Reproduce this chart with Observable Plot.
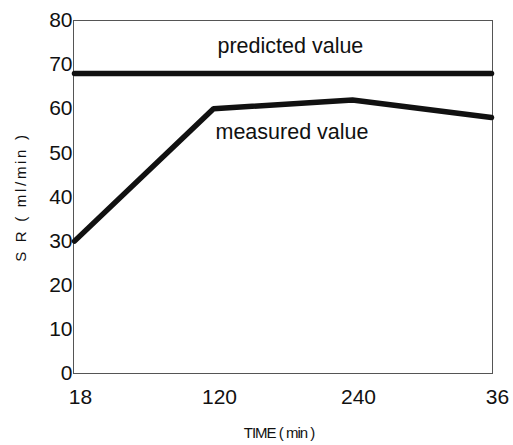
<!DOCTYPE html>
<html>
<head>
<meta charset="utf-8">
<script src="https://cdn.jsdelivr.net/npm/d3@7"></script>
<script src="https://cdn.jsdelivr.net/npm/@observablehq/plot@0.6"></script>
<style>
  html, body { margin: 0; padding: 0; background: #fff; }
  #chart svg { font-family: "Liberation Sans", Arial, Helvetica, sans-serif; }
</style>
</head>
<body>
<div id="chart"></div>
<script>
const timeLabels = ["18", "120", "240", "36"];
const predicted = [68, 68, 68, 68];
const measured = [30, 60, 62, 58];
const yTicks = [0, 10, 20, 30, 40, 50, 60, 70, 80];

const predData = timeLabels.map((t, i) => ({t, v: predicted[i]}));
const measData = timeLabels.map((t, i) => ({t, v: measured[i]}));

const plot = Plot.plot({
  width: 513,
  height: 445,
  marginLeft: 73,
  marginRight: 21,
  marginTop: 20,
  marginBottom: 72,
  x: {type: "point", domain: timeLabels, padding: 0},
  y: {domain: [0, 80]},
  marks: [
    Plot.frame({stroke: "#555", strokeWidth: 1}),
    Plot.axisY({ticks: yTicks, tickSize: 0, tickPadding: 1, fontSize: 21, label: null, fill: "#111"}),
    Plot.axisX({tickSize: 0, tickPadding: 16, dx: 6, fontSize: 21, label: null, fill: "#111"}),
    Plot.line(predData, {x: "t", y: "v", stroke: "#111", strokeWidth: 5.5}),
    Plot.line(measData, {x: "t", y: "v", stroke: "#111", strokeWidth: 5.5, strokeLinejoin: "miter"}),
    Plot.text(["predicted value"], {x: () => "120", y: () => 74.3, text: d => d, textAnchor: "start", dx: 4, fontSize: 21.5, fill: "#111"}),
    Plot.text(["measured value"], {x: () => "120", y: () => 54.6, text: d => d, textAnchor: "start", dx: 2, fontSize: 21.5, fill: "#111"}),
    Plot.text(["S R ( ml/min )"], {frameAnchor: "left", text: d => d, rotate: -90, textAnchor: "middle", dx: -52, dy: 0, fontSize: 15, fill: "#111"}),
    Plot.text(["TIME ( min )"], {frameAnchor: "bottom", text: d => d, textAnchor: "middle", dy: 64, dx: -4, fontSize: 15, fill: "#111"})
  ]
});
document.getElementById("chart").appendChild(plot);
plot.querySelectorAll("text").forEach(t => {
  if (t.textContent === "S R ( ml/min )") t.style.letterSpacing = "2.7px";
  if (t.textContent === "TIME ( min )") t.style.letterSpacing = "-1px";
});
</script>
</body>
</html>
